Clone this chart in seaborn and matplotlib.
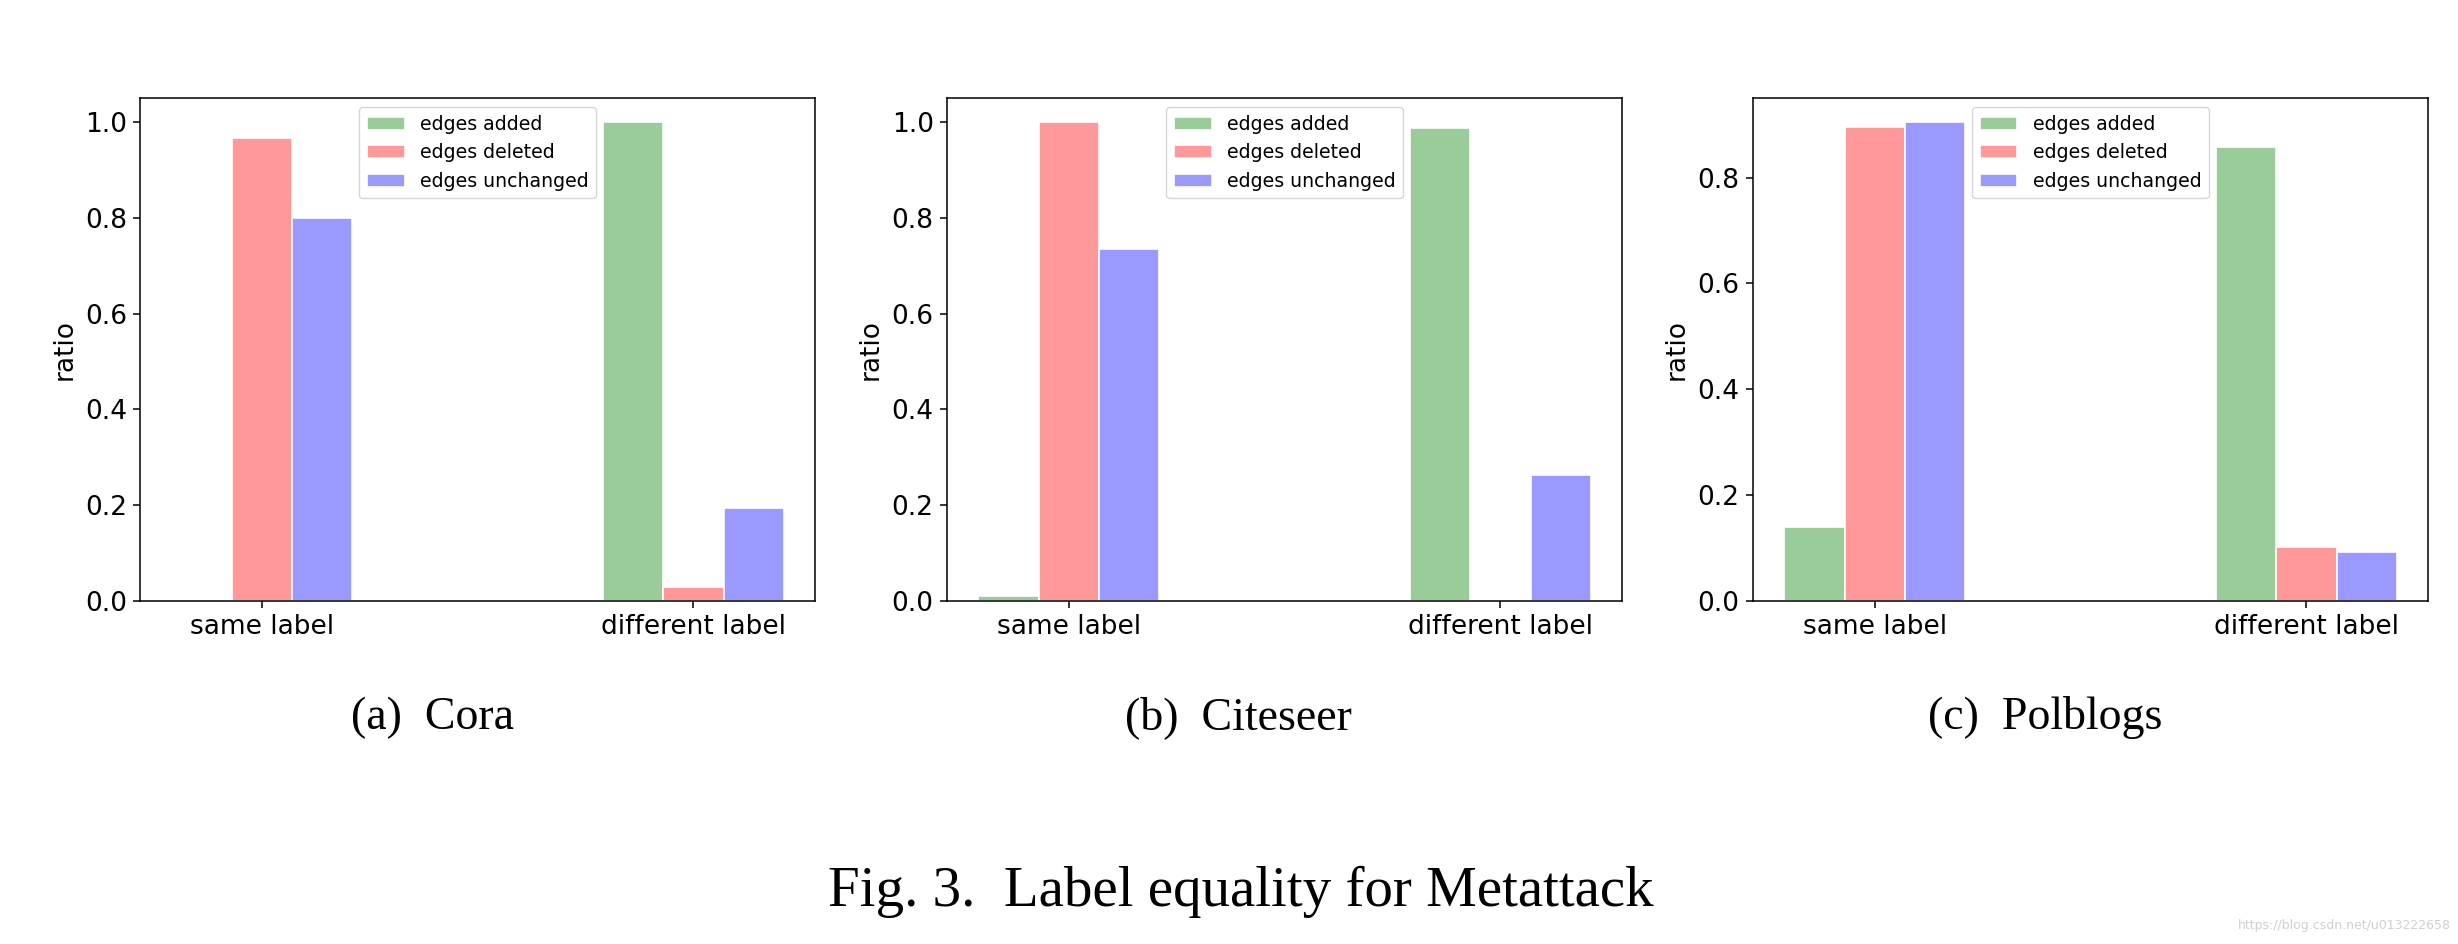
import numpy as np
import pandas as pd
import matplotlib
matplotlib.use('Agg')
import matplotlib.pyplot as plt
import seaborn as sns

# ---- 데이터 ----
groups = ['same label', 'different label']
edge_types = ['edges added', 'edges deleted', 'edges unchanged']

cora_added = [0.0, 1.0]
cora_deleted = [0.967, 0.03]
cora_unchanged = [0.80, 0.195]

citeseer_added = [0.01, 0.988]
citeseer_deleted = [1.0, 0.0]
citeseer_unchanged = [0.735, 0.262]

polblogs_added = [0.139, 0.858]
polblogs_deleted = [0.895, 0.102]
polblogs_unchanged = [0.905, 0.093]

subcaptions = ['(a)  Cora', '(b)  Citeseer', '(c)  Polblogs']
caption = 'Fig. 3.  Label equality for Metattack'
watermark = 'https://blog.csdn.net/u013222658'

palette = ['#99cc99', '#ff9999', '#9999ff']


def make_df(added, deleted, unchanged):
    rows = []
    for name, vals in zip(edge_types, [added, deleted, unchanged]):
        for g, v in zip(groups, vals):
            rows.append({'group': g, 'type': name, 'ratio': v})
    return pd.DataFrame(rows)


panels = [
    make_df(cora_added, cora_deleted, cora_unchanged),
    make_df(citeseer_added, citeseer_deleted, citeseer_unchanged),
    make_df(polblogs_added, polblogs_deleted, polblogs_unchanged),
]

fig = plt.figure(figsize=(24.58, 9.44), dpi=100)

# 축 위치 (figure 비율)
lefts = [0.0570, 0.3853, 0.7132]
ax_w, ax_h, ax_b = 0.2746, 0.5328, 0.3634
sub_x = [0.176, 0.504, 0.832]

for i, df in enumerate(panels):
    ax = fig.add_axes([lefts[i], ax_b, ax_w, ax_h])
    sns.barplot(data=df, x='group', y='ratio', hue='type', palette=palette,
                saturation=1, width=0.42, edgecolor='white', linewidth=1.2,
                errorbar=None, ax=ax)
    ax.set_xlim(-0.282, 1.282)
    ax.set_ylim(0, df['ratio'].max() * 1.05)
    ax.set_xlabel('')
    ax.set_ylabel('ratio', fontsize=19, labelpad=5.5)
    ax.tick_params(labelsize=19, length=4.8, width=1.1, pad=4.8)
    for s in ax.spines.values():
        s.set_linewidth(1.1)
        s.set_color('black')
    ax.legend(loc='upper center', fontsize=13.6, title=None)
    fig.text(sub_x[i], 0.240, subcaptions[i], ha='center', va='center',
             fontsize=33, family='Liberation Serif')

fig.text(0.505, 0.055, caption, ha='center', va='center',
         fontsize=41, family='Liberation Serif')
fig.text(0.997, 0.02, watermark, ha='right', va='center',
         fontsize=9, color='#d0d0d0')

plt.savefig('out.png', dpi=100)
